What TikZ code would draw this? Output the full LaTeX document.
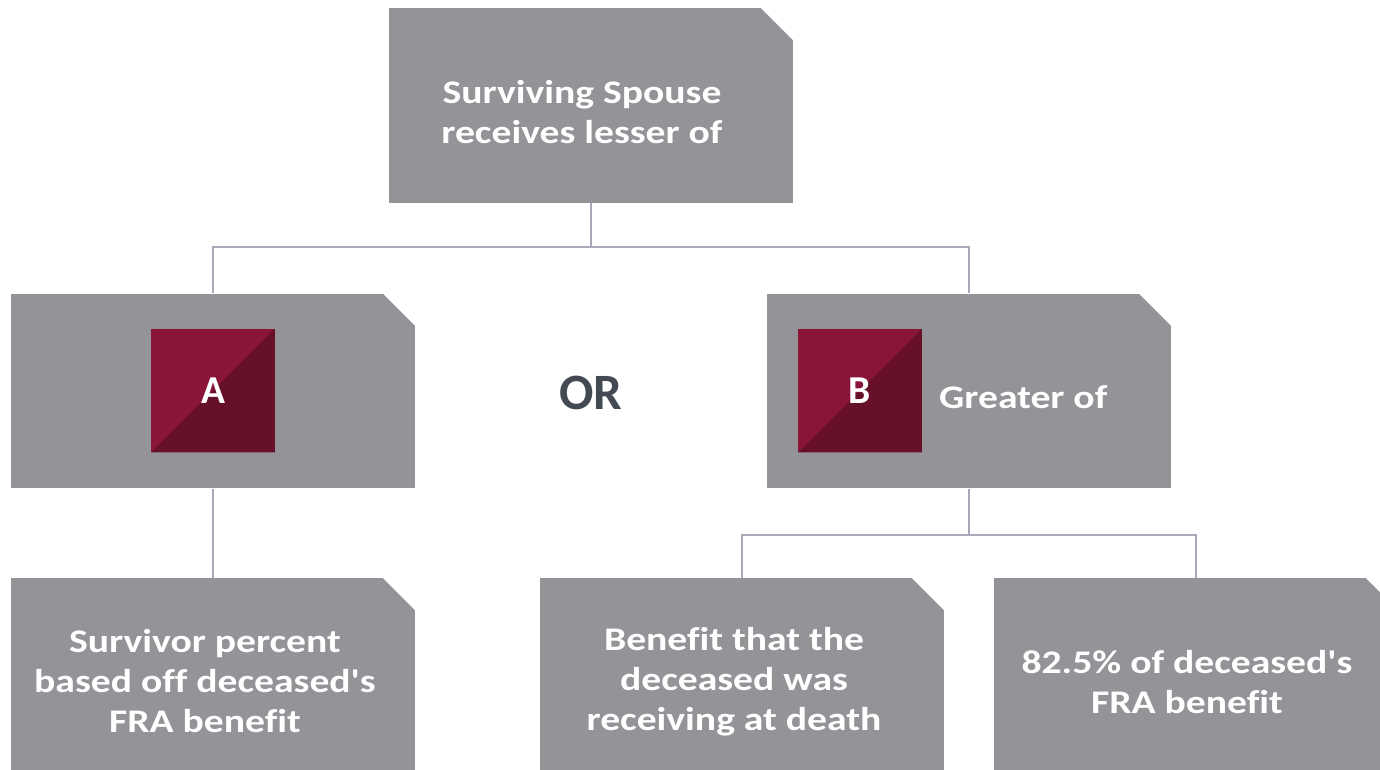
\documentclass[tikz,border=0pt]{standalone}
\usepackage{fontspec}
\setmainfont{Carlito}
\newfontfamily\boxfont{Carlito}[FakeStretch=1.2,Ligatures={TeXOff,CommonOff}]

\definecolor{boxgray}{HTML}{939398}
\definecolor{linegray}{HTML}{A9A9BA}
\definecolor{wine}{HTML}{8A1539}
\definecolor{darkwine}{HTML}{661029}
\definecolor{orgray}{HTML}{434A54}

\begin{document}
\begin{tikzpicture}[x=0.02cm,y=-0.02cm]
\clip (0,0) rectangle (1380,770);
\begin{scope}[every node/.style={rectangle,fill=boxgray,inner sep=0pt,
      minimum width=8.08cm,minimum height=3.9cm,
      path picture={\fill[white] ([xshift=-0.64cm]path picture bounding box.north east)
        -- (path picture bounding box.north east) -- ([yshift=-0.64cm]path picture bounding box.north east) -- cycle;}}]
    \node (top) at (591,105.5) {};
    \node (boxA) at (213,391) {};
    \node (boxB) at (969,391) {};
    \node (survA) at (213,675.5) {};
    \node (benefit) at (742,675.5) {};
    \node (pct) at (1196,675.5) {};
\end{scope}
\begin{scope}[every node/.style={text=white,font=\boxfont\bfseries\fontsize{18.8}{22.7}\selectfont,align=center}]
    \node (topT) at (582,112) {Surviving Spouse\\receives lesser of};
    \node (survT) at (205,681) {Survivor percent\\based off deceased's\\FRA benefit};
    \node (benefitT) at (734,682) {Benefit that the\\deceased was\\receiving at death};
    \node (pctT) at (1187,682) {82.5\% of deceased's\\FRA benefit};
    \node[anchor=west] (greater) at (933,397) {Greater of};
\end{scope}
\begin{scope}[every node/.style={minimum size=2.48cm,inner sep=0pt,fill=wine,text=white,
      font=\bfseries\fontsize{22.5}{26}\selectfont,
      path picture={\fill[darkwine] (path picture bounding box.south west)
        -- (path picture bounding box.south east) -- (path picture bounding box.north east) -- cycle;}}]
    \node (sqA) at (213,390.5) {A};
    \node (sqB) at (860,390.5) {B};
\end{scope}
\node[text=orgray,font=\bfseries\fontsize{29}{35}\selectfont] (or) at (591,393) {OR};
\coordinate (j1) at (591,247);
\coordinate (j2) at (969,535);
\begin{scope}[every path/.style={draw=linegray,line width=0.85pt}]
    \path (top) -- (j1) -| (boxA);
    \path (j1) -| (boxB);
    \path (boxA) -- (survA);
    \path (boxB) -- (j2) -| (benefit);
    \path (j2) -| (pct);
\end{scope}
\end{tikzpicture}
\end{document}
